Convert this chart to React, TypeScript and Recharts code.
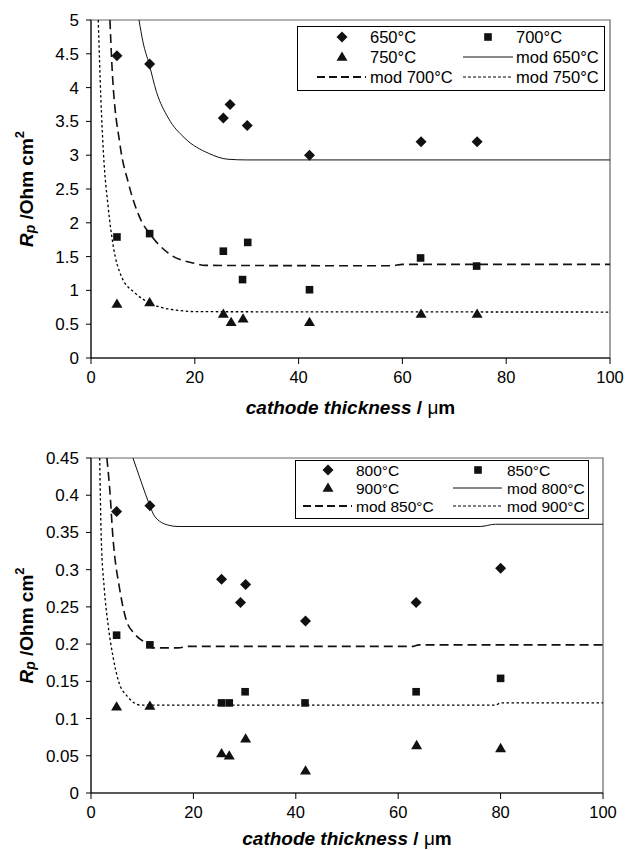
import React from 'react';
import { ScatterChart, Scatter, XAxis, YAxis, ReferenceArea, Label } from 'recharts';

const FONT = '"Liberation Sans", Arial, Helvetica, sans-serif';

// ---- top panel: 650 / 700 / 750 °C ----
const x650 = [5, 11.3, 25.5, 26.8, 30.1, 42.1, 63.6, 74.4];
const rp650 = [4.47, 4.35, 3.55, 3.75, 3.44, 3.0, 3.2, 3.2];
const x700 = [5, 11.3, 25.5, 29.2, 30.2, 42.1, 63.5, 74.3];
const rp700 = [1.79, 1.84, 1.58, 1.16, 1.71, 1.01, 1.48, 1.36];
const x750 = [5, 11.3, 25.5, 27.0, 29.3, 42.1, 63.6, 74.4];
const rp750 = [0.8, 0.82, 0.65, 0.53, 0.58, 0.53, 0.65, 0.65];

// model curves
const modX650 = [9.25, 10, 11.2, 12.6, 14.9, 18.1, 22.6, 26.4, 30, 100];
const modY650 = [5.0, 4.68, 4.35, 3.94, 3.55, 3.25, 3.03, 2.94, 2.93, 2.93];
const modX700 = [3.65, 4.0, 5.6, 7.2, 9.75, 11.2, 14.9, 20, 22, 58, 60, 100];
const modY700 = [5.0, 4.38, 3.15, 2.59, 2.02, 1.85, 1.55, 1.4, 1.37, 1.365, 1.385, 1.385];
const modX750 = [1.4, 1.9, 2.4, 3.3, 4.3, 5.9, 8.5, 11.4, 16.2, 20.7, 100];
const modY750 = [5.0, 3.84, 3.03, 2.24, 1.65, 1.2, 0.96, 0.81, 0.71, 0.685, 0.68];

const topYTicks = [0, 0.5, 1, 1.5, 2, 2.5, 3, 3.5, 4, 4.5, 5];

// ---- bottom panel: 800 / 850 / 900 °C ----
const x800 = [5, 11.5, 25.5, 29.2, 30.2, 41.9, 63.5, 80];
const rp800 = [0.378, 0.386, 0.287, 0.256, 0.28, 0.231, 0.256, 0.302];
const x850 = [5, 11.5, 25.5, 27.0, 30.1, 41.8, 63.5, 80];
const rp850 = [0.212, 0.199, 0.121, 0.121, 0.136, 0.121, 0.136, 0.154];
const x900 = [5, 11.5, 25.5, 27.0, 30.2, 41.9, 63.6, 80];
const rp900 = [0.116, 0.117, 0.053, 0.05, 0.073, 0.03, 0.064, 0.06];

const modX800 = [8.2, 9.8, 11.5, 12.4, 15, 17, 76, 79, 100];
const modY800 = [0.45, 0.418, 0.386, 0.372, 0.36, 0.358, 0.358, 0.361, 0.361];
const modX850 = [3.1, 3.65, 4.3, 5.6, 6.9, 8.5, 10.8, 12.1, 17, 19, 63, 64, 100];
const modY850 = [0.45, 0.409, 0.342, 0.274, 0.232, 0.214, 0.201, 0.195, 0.195, 0.197, 0.197, 0.199, 0.199];
const modX900 = [1.7, 2.0, 2.6, 3.3, 4.3, 5.3, 7.2, 9.8, 79, 80, 100];
const modY900 = [0.45, 0.343, 0.274, 0.228, 0.183, 0.152, 0.129, 0.118, 0.118, 0.121, 0.121];

const botYTicks = [0, 0.05, 0.1, 0.15, 0.2, 0.25, 0.3, 0.35, 0.4, 0.45];
const xTicks = [0, 20, 40, 60, 80, 100];

const pts = (xs: number[], ys: number[]) => xs.map((x, i) => ({ x, y: ys[i] }));

const INK = '#111';

const Diamond = (p: any) => (
  <polygon points={`${p.cx},${p.cy - 5.5} ${p.cx + 5.5},${p.cy} ${p.cx},${p.cy + 5.5} ${p.cx - 5.5},${p.cy}`} fill={INK} />
);
const Square = (p: any) => <rect x={p.cx - 3.8} y={p.cy - 3.8} width={7.6} height={7.6} fill={INK} />;
const Triangle = (p: any) => (
  <polygon points={`${p.cx},${p.cy - 5.5} ${p.cx + 5.5},${p.cy + 3.8} ${p.cx - 5.5},${p.cy + 3.8}`} fill={INK} />
);
const NoMark = () => <g />;

const SOLID = { stroke: INK, strokeWidth: 1 };
const DASHED = { stroke: INK, strokeWidth: 1.6, strokeDasharray: '9 5' };
const DOTTED = { stroke: '#000', strokeWidth: 1.3, strokeDasharray: '2.5 2.5' };

const YTitle = (props: any) => {
  const vb = props.viewBox;
  const cx = vb.x + 26;
  const cy = vb.y + vb.height / 2;
  return (
    <text x={cx} y={cy} transform={`rotate(-90 ${cx} ${cy})`} textAnchor="middle" dominantBaseline="central"
      fontFamily={FONT} fontSize={19} fontWeight="bold" fill="#000">
      <tspan fontStyle="italic">R</tspan>
      <tspan fontStyle="italic" fontSize={14} dy={4}>p</tspan>
      <tspan dy={-4}> /Ohm cm</tspan>
      <tspan fontSize={13} dy={-7}>2</tspan>
    </text>
  );
};

const XTitle = (props: any) => {
  const vb = props.viewBox;
  return (
    <text x={vb.x + vb.width / 2} y={vb.y + props.offsetY} textAnchor="middle" fontFamily={FONT} fontSize={19}
      fontWeight="bold" fill="#000">
      <tspan fontStyle="italic">cathode thickness</tspan>
      <tspan> / </tspan>
      <tspan fontWeight="normal">μ</tspan>
      <tspan>m</tspan>
    </text>
  );
};

type Series = { name: string; data: { x: number; y: number }[]; shape: any; line?: any };

type PanelProps = {
  top: number;
  height: number;
  margin: { top: number; right: number; bottom: number; left: number };
  xAxisHeight: number;
  titleOffset: number;
  yMax: number;
  yTicks: number[];
  series: Series[];
};

function Panel({ top, height, margin, xAxisHeight, titleOffset, yMax, yTicks, series }: PanelProps) {
  const xTick = { fill: '#000', fontSize: 16.5, fontFamily: FONT };
  const yTick = { fill: '#000', fontSize: 17, fontFamily: FONT };
  return (
    <div style={{ position: 'absolute', left: 0, top }}>
      <ScatterChart width={625} height={height} margin={margin}>
        <ReferenceArea x1={0} x2={100} y1={0} y2={yMax} fill="none" stroke="#666" strokeWidth={1.2} />
        <XAxis type="number" dataKey="x" domain={[0, 100]} ticks={xTicks} height={xAxisHeight}
          axisLine={{ stroke: '#000' }} tickLine={{ stroke: '#000' }} tickSize={6} tickMargin={7} tick={xTick}>
          <Label content={(p: any) => <XTitle {...p} offsetY={titleOffset} />} />
        </XAxis>
        <YAxis type="number" dataKey="y" domain={[0, yMax]} ticks={yTicks} width={91}
          axisLine={{ stroke: '#000' }} tickLine={{ stroke: '#000' }} tickSize={5} tickMargin={7} tick={yTick}
          tickFormatter={(v: number) => String(v)}>
          <Label content={(p: any) => <YTitle {...p} />} />
        </YAxis>
        {series.map((s) => (
          <Scatter key={s.name} name={s.name} data={s.data} shape={s.shape} line={s.line} lineType="joint"
            lineJointType="monotoneX" fill={INK} isAnimationActive={false} />
        ))}
      </ScatterChart>
    </div>
  );
}

type LegendRow = { label: string; kind: 'diamond' | 'square' | 'triangle' | 'solid' | 'dashed' | 'dotted' };

function LegendBox({ left, top, width, height, rows, colX, textX, lineX, fontSize, rowY }: {
  left: number; top: number; width: number; height: number; rows: LegendRow[][];
  colX: number[]; textX: number[]; lineX: [number, number][]; fontSize: number; rowY: number[];
}) {
  const symbol = (kind: LegendRow['kind'], col: number, y: number) => {
    const cx = colX[col];
    const [x1, x2] = lineX[col];
    if (kind === 'diamond') return <Diamond cx={cx} cy={y} />;
    if (kind === 'square') return <Square cx={cx} cy={y} />;
    if (kind === 'triangle') return <Triangle cx={cx} cy={y} />;
    const st = kind === 'solid' ? SOLID : kind === 'dashed' ? { ...DASHED, strokeWidth: 2, strokeDasharray: '8 4' } : { ...DOTTED, strokeWidth: 1, strokeDasharray: '3 2' };
    return <line x1={x1} x2={x2} y1={y} y2={y} {...st} />;
  };
  return (
    <svg style={{ position: 'absolute', left, top }} width={width} height={height}>
      <rect x={0.5} y={0.5} width={width - 1} height={height - 1} fill="#fff" stroke="#000" strokeWidth={1} />
      {rows.map((row, r) =>
        row.map((item, c) => (
          <g key={`${r}-${c}`}>
            {symbol(item.kind, c, rowY[r])}
            <text x={textX[c]} y={rowY[r]} dominantBaseline="central" fontFamily={FONT} fontSize={fontSize} fill="#000">
              {item.label}
            </text>
          </g>
        )),
      )}
    </svg>
  );
}

export default function App() {
  const topSeries: Series[] = [
    { name: 'mod 650°C', data: pts(modX650, modY650), shape: NoMark, line: SOLID },
    { name: 'mod 700°C', data: pts(modX700, modY700), shape: NoMark, line: DASHED },
    { name: 'mod 750°C', data: pts(modX750, modY750), shape: NoMark, line: DOTTED },
    { name: '650°C', data: pts(x650, rp650), shape: Diamond },
    { name: '700°C', data: pts(x700, rp700), shape: Square },
    { name: '750°C', data: pts(x750, rp750), shape: Triangle },
  ];
  const botSeries: Series[] = [
    { name: 'mod 800°C', data: pts(modX800, modY800), shape: NoMark, line: SOLID },
    { name: 'mod 850°C', data: pts(modX850, modY850), shape: NoMark, line: DASHED },
    { name: 'mod 900°C', data: pts(modX900, modY900), shape: NoMark, line: DOTTED },
    { name: '800°C', data: pts(x800, rp800), shape: Diamond },
    { name: '850°C', data: pts(x850, rp850), shape: Square },
    { name: '900°C', data: pts(x900, rp900), shape: Triangle },
  ];

  return (
    <div style={{ position: 'absolute', left: 0, top: 0, width: 625, height: 850, background: '#fff' }}>
      <Panel top={0} height={420} margin={{ top: 20, right: 15, bottom: 0, left: 0 }} xAxisHeight={62}
        titleOffset={56} yMax={5} yTicks={topYTicks} series={topSeries} />
      <Panel top={430} height={420} margin={{ top: 28, right: 22, bottom: 0, left: 0 }} xAxisHeight={57}
        titleOffset={52} yMax={0.45} yTicks={botYTicks} series={botSeries} />
      <LegendBox left={297} top={26} width={308} height={65} fontSize={16.5}
        rowY={[11, 31, 51]} colX={[45, 191]} textX={[73, 219]} lineX={[[20, 69], [166, 216]]}
        rows={[
          [{ label: '650°C', kind: 'diamond' }, { label: '700°C', kind: 'square' }],
          [{ label: '750°C', kind: 'triangle' }, { label: 'mod 650°C', kind: 'solid' }],
          [{ label: 'mod 700°C', kind: 'dashed' }, { label: 'mod 750°C', kind: 'dotted' }],
        ]} />
      <LegendBox left={295} top={460} width={294} height={59} fontSize={15.5}
        rowY={[10, 28, 46]} colX={[33, 183]} textX={[61, 212]} lineX={[[8, 57], [158, 207]]}
        rows={[
          [{ label: '800°C', kind: 'diamond' }, { label: '850°C', kind: 'square' }],
          [{ label: '900°C', kind: 'triangle' }, { label: 'mod 800°C', kind: 'solid' }],
          [{ label: 'mod 850°C', kind: 'dashed' }, { label: 'mod 900°C', kind: 'dotted' }],
        ]} />
    </div>
  );
}
